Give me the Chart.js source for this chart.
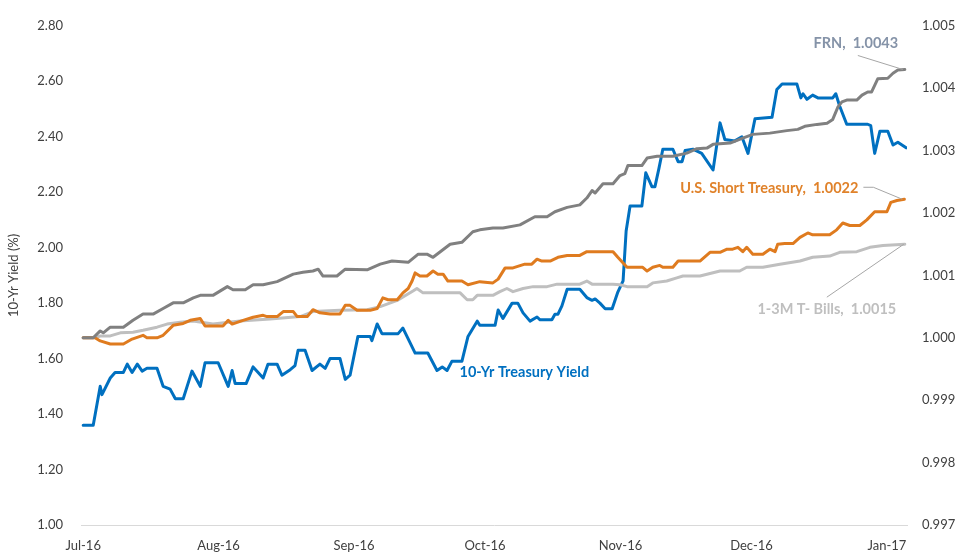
<!DOCTYPE html>
<html>
<head>
<meta charset="utf-8">
<script src="https://cdn.jsdelivr.net/npm/chart.js@4.4.1/dist/chart.umd.min.js"></script>
<style>
html,body{margin:0;padding:0;background:#fff;}
#wrap{width:959px;height:556px;position:relative;}
</style>
</head>
<body>
<div id="wrap"><canvas id="c" width="959" height="556"></canvas></div>
<script>
// ---- Data (x = days since 1-Jul-2016) ----
const monthLabels = ['Jul-16','Aug-16','Sep-16','Oct-16','Nov-16','Dec-16','Jan-17'];
const monthDays   = [0, 31, 62, 92, 123, 153, 184];

const seriesNames = ['FRN', 'U.S. Short Treasury', '1-3M T- Bills', '10-Yr Treasury Yield'];

// 10-Yr Treasury Yield (%), left axis
const yieldDays = [
  0,2.3,3.9,4.3,6.2,7.3,9.2,10.1,11.2,12.4,
  13.5,14.6,16.9,18.3,19.9,21.1,22.9,24.9,26.8,27.9,
  30.9,33.2,34.1,34.8,37.3,38.9,41.2,42.3,44.4,45.5,
  47.4,48.5,49.2,50.8,52.4,54.2,55.4,56.5,58.8,60.0,
  61.1,62.9,65.7,66.1,67.3,68.4,69.6,72.1,73.2,76.0,
  78.9,81.0,82.2,83.3,84.4,86.7,88.1,90.2,90.8,94.3,
  95.0,96.1,98.2,99.5,100.7,102.3,103.9,104.6,107.3,108.0,
  108.7,109.6,110.8,113.7,115.3,116.5,117.2,118.3,119.5,121.1,
  122.4,123.3,123.6,124.3,125.2,127.9,128.8,130.2,130.9,131.8,
  132.7,135.0,136.2,137.1,137.8,139.6,141.6,144.2,145.8,146.9,
  149.2,150.8,152.2,153.8,157.7,158.8,160.0,163.4,164.3,164.8,
  165.7,167.0,168.2,171.6,172.3,173.2,174.8,179.6,180.3,181.2,
  182.4,184.2,185.4,186.5,188.4
];
const yieldVals = [
  1.36,1.36,1.50,1.47,1.53,1.55,1.55,1.58,1.55,1.58,
  1.555,1.565,1.565,1.50,1.49,1.455,1.455,1.555,1.50,1.585,
  1.585,1.50,1.557,1.51,1.51,1.57,1.53,1.58,1.58,1.54,
  1.56,1.575,1.63,1.63,1.557,1.58,1.565,1.60,1.60,1.525,
  1.54,1.68,1.68,1.665,1.725,1.69,1.69,1.69,1.71,1.62,
  1.62,1.557,1.57,1.557,1.59,1.59,1.68,1.735,1.72,1.72,
  1.775,1.745,1.80,1.80,1.765,1.735,1.75,1.74,1.74,1.76,
  1.76,1.79,1.85,1.85,1.82,1.81,1.815,1.80,1.78,1.78,
  1.84,1.87,1.88,2.06,2.15,2.15,2.27,2.22,2.22,2.285,
  2.355,2.355,2.31,2.31,2.35,2.355,2.34,2.28,2.45,2.39,
  2.385,2.40,2.34,2.465,2.47,2.57,2.59,2.59,2.54,2.555,
  2.535,2.55,2.54,2.54,2.555,2.51,2.445,2.445,2.44,2.34,
  2.42,2.42,2.37,2.38,2.36
];

// FRN, right axis
const frnDays = [
  0,2.3,3.9,4.6,6.2,9.2,11.4,13.7,16.0,18.3,
  20.6,22.9,25.2,26.8,29.7,33.0,34.3,37.1,38.9,41.2,
  44.4,48.1,50.3,52.6,53.8,54.9,58.1,60.0,65.0,68.0,
  70.7,74.4,76.7,78.7,80.1,84.0,86.7,89.2,90.8,93.8,
  96.1,100.0,103.4,106.2,108.0,110.8,113.7,115.3,116.5,117.2,
  119.0,121.3,122.9,124.0,124.7,127.9,129.1,131.4,135.0,138.2,
  140.5,142.8,144.2,148.1,151.0,153.3,157.2,161.1,163.6,165.2,
  168.0,170.3,171.6,172.8,173.7,174.8,177.1,178.3,179.6,180.5,
  181.9,184.2,185.4,186.5,188.1
];
const frnVals = [
  1.0000,1.0000,1.00011,1.00008,1.00017,1.00017,1.00028,1.00038,1.00038,1.00047,
  1.00056,1.00056,1.00064,1.00068,1.00068,1.00082,1.00077,1.00077,1.00085,1.00085,
  1.00090,1.00102,1.00105,1.00107,1.00110,1.00099,1.00099,1.00110,1.00109,1.00118,
  1.00123,1.00121,1.00134,1.00134,1.00129,1.00150,1.00153,1.00170,1.00173,1.00176,
  1.00176,1.00181,1.00194,1.00194,1.00202,1.00209,1.00213,1.00224,1.00236,1.00232,
  1.00247,1.00247,1.00260,1.00263,1.00276,1.00276,1.00288,1.00291,1.00291,1.00296,
  1.00303,1.00304,1.00310,1.00312,1.00320,1.00326,1.00328,1.00332,1.00334,1.00339,
  1.00342,1.00344,1.00350,1.00370,1.00378,1.00381,1.00381,1.00389,1.00394,1.00394,
  1.00415,1.00416,1.00424,1.00429,1.00430
];

// U.S. Short Treasury, right axis
const shortDays = [
  0,2.7,3.9,6.2,9.2,11.2,13.7,14.6,16.9,18.3,
  20.6,22.9,24.5,26.8,27.9,32.0,33.2,34.1,36.6,38.9,
  41.2,42.1,44.4,45.8,48.1,49.0,51.3,52.6,54.2,56.5,
  58.8,60.0,61.1,62.7,65.7,67.3,68.6,69.8,71.9,73.2,
  74.4,75.3,76.0,77.1,78.7,80.1,81.2,82.4,83.5,86.7,
  88.1,90.8,93.8,95.0,96.6,98.4,101.1,102.7,103.9,105.0,
  106.9,108.7,110.8,113.7,115.3,121.3,122.4,124.5,128.1,129.1,
  130.4,132.0,132.7,135.0,136.2,141.2,143.5,145.8,147.4,148.7,
  149.9,151.0,151.9,153.3,155.6,157.2,158.4,159.0,160.6,162.5,
  164.1,165.9,167.0,170.9,172.5,173.9,175.5,177.8,179.4,181.2,
  184.0,184.9,186.3,188.0
];
const shortVals = [
  1.0000,1.0000,0.99995,0.99990,0.99990,0.99998,1.00004,1.0000,1.0000,1.00004,
  1.00020,1.00023,1.00028,1.00031,1.00019,1.00019,1.00028,1.00022,1.00028,1.00033,
  1.00036,1.00034,1.00034,1.00042,1.00042,1.00034,1.00034,1.00045,1.00040,1.00038,
  1.00038,1.00052,1.00052,1.00044,1.00044,1.00047,1.00064,1.00061,1.00061,1.00072,
  1.00079,1.00091,1.00104,1.00099,1.00099,1.00107,1.00102,1.00102,1.00091,1.00091,
  1.00085,1.00090,1.00088,1.00094,1.00112,1.00112,1.00118,1.00118,1.00126,1.00123,
  1.00123,1.00129,1.00132,1.00132,1.00138,1.00138,1.00129,1.00113,1.00113,1.00107,
  1.00113,1.00116,1.00113,1.00113,1.00123,1.00123,1.00137,1.00137,1.00142,1.00142,
  1.00145,1.00138,1.00145,1.00134,1.00134,1.00142,1.00138,1.00150,1.00151,1.00151,
  1.00161,1.00168,1.00165,1.00165,1.00173,1.00184,1.00180,1.00180,1.00189,1.00202,
  1.00202,1.00217,1.00220,1.00222
];

// 1-3M T-Bills, right axis
const billDays = [
  0,2.3,3.9,6.2,8.5,11.4,13.7,16.9,19.2,22.2,
  25.2,29.7,35.9,42.8,49.7,52.6,58.8,65.0,68.0,71.9,
  75.5,76.4,77.8,86.3,87.9,89.2,90.2,93.8,95.4,97.0,
  98.4,100.7,103.0,106.2,108.5,113.7,115.3,116.5,121.3,122.9,
  124.5,129.1,130.4,133.6,135.9,137.3,141.2,145.8,150.3,151.9,
  155.6,159.5,164.1,167.0,170.9,173.2,177.1,180.1,183.1,188.1
];
const billVals = [
  1.0000,1.0000,1.00003,1.00003,1.00008,1.00009,1.00012,1.00017,1.00022,1.00025,
  1.00027,1.00022,1.00027,1.00030,1.00034,1.00042,1.00044,1.00045,1.00050,1.00060,
  1.00075,1.00079,1.00072,1.00072,1.00061,1.00061,1.00068,1.00068,1.00074,1.00079,
  1.00074,1.00079,1.00082,1.00082,1.00086,1.00086,1.00091,1.00086,1.00086,1.00085,
  1.00082,1.00082,1.00088,1.00091,1.00096,1.00099,1.00099,1.00107,1.00107,1.00113,
  1.00113,1.00118,1.00123,1.00129,1.00131,1.00137,1.00138,1.00145,1.00148,1.00150
];

const toXY = (xs, ys) => xs.map((x, i) => ({x: x, y: ys[i]}));

const FONT = 'Lato, "Open Sans", "Liberation Sans", sans-serif';
const TXT = '#404040';

const labelPlugin = {
  id: 'seriesLabels',
  afterDatasetsDraw(chart) {
    const ctx = chart.ctx;
    const last = (i) => { const d = chart.getDatasetMeta(i).data; return d[d.length - 1]; };
    ctx.save();
    ctx.font = 'bold 14.5px ' + FONT;
    ctx.textBaseline = 'middle';
    ctx.lineWidth = 1;
    ctx.strokeStyle = '#a6a6a6';

    // FRN
    const pF = last(0);
    ctx.beginPath(); ctx.moveTo(pF.x - 47, pF.y - 14); ctx.lineTo(pF.x - 2, pF.y); ctx.stroke();
    ctx.fillStyle = '#8593a8'; ctx.textAlign = 'center';
    ctx.fillText(seriesNames[0] + ',  ' + frnVals[frnVals.length - 1].toFixed(4), pF.x - 49, pF.y - 26);

    // Short Treasury
    const pS = last(1);
    ctx.beginPath(); ctx.moveTo(pS.x - 41, pS.y - 12); ctx.lineTo(pS.x - 31, pS.y - 12); ctx.lineTo(pS.x - 2, pS.y); ctx.stroke();
    ctx.fillStyle = '#e0822a'; ctx.textAlign = 'right';
    ctx.fillText(seriesNames[1] + ',  ' + shortVals[shortVals.length - 1].toFixed(4), pS.x - 46, pS.y - 11);

    // T-Bills
    const pB = last(2);
    ctx.beginPath(); ctx.moveTo(pB.x - 78, pB.y + 53); ctx.lineTo(pB.x - 1, pB.y); ctx.stroke();
    ctx.fillStyle = '#bfbfbf'; ctx.textAlign = 'center';
    ctx.fillText(seriesNames[2] + ',  ' + billVals[billVals.length - 1].toFixed(4), pB.x - 78, pB.y + 65);

    // 10-Yr label
    const xs = chart.scales.x, yl = chart.scales.y;
    ctx.fillStyle = '#0070c0'; ctx.textAlign = 'center';
    ctx.fillText(seriesNames[3], xs.getPixelForValue(101), yl.getPixelForValue(1.55));
    ctx.restore();
  }
};

new Chart(document.getElementById('c'), {
  type: 'line',
  data: {
    datasets: [
      { label: seriesNames[0], data: toXY(frnDays, frnVals), yAxisID: 'y1', borderColor: '#808080', borderWidth: 3 },
      { label: seriesNames[1], data: toXY(shortDays, shortVals), yAxisID: 'y1', borderColor: '#df7b1f', borderWidth: 3 },
      { label: seriesNames[2], data: toXY(billDays, billVals), yAxisID: 'y1', borderColor: '#bfbfbf', borderWidth: 3 },
      { label: seriesNames[3], data: toXY(yieldDays, yieldVals), yAxisID: 'y', borderColor: '#0070c0', borderWidth: 3 }
    ]
  },
  options: {
    responsive: false,
    animation: false,
    events: [],
    layout: { padding: { top: 17, left: 0, right: 0, bottom: 0 } },
    elements: {
      point: { radius: 0 },
      line: { tension: 0, borderJoinStyle: 'round', borderCapStyle: 'round', fill: false }
    },
    plugins: { legend: { display: false }, tooltip: { enabled: false } },
    scales: {
      x: {
        type: 'linear', min: -0.5, max: 188.6,
        grid: { display: false, drawTicks: false },
        border: { display: true, color: '#d9d9d9', width: 1 },
        afterBuildTicks: (s) => { s.ticks = monthDays.map(v => ({ value: v })); },
        ticks: {
          autoSkip: false, maxRotation: 0, padding: 13, color: TXT,
          font: { family: FONT, size: 13 },
          callback: (v) => { const i = monthDays.indexOf(v); return i >= 0 ? monthLabels[i] : ''; }
        },
        afterFit: (s) => { s.height = 31; }
      },
      y: {
        position: 'left', min: 1.0, max: 2.8,
        grid: { display: false, drawTicks: false },
        border: { display: false },
        ticks: { stepSize: 0.2, padding: 18, color: TXT, font: { family: FONT, size: 13 },
                 callback: (v) => Number(v).toFixed(2) },
        title: { display: true, text: '10-Yr Yield (%)', color: TXT, font: { family: FONT, size: 13 }, padding: { top: 6, bottom: 0 } },
        afterFit: (s) => { s.width = 81; }
      },
      y1: {
        position: 'right', min: 0.997, max: 1.005,
        grid: { display: false, drawTicks: false },
        border: { display: false },
        ticks: { stepSize: 0.001, padding: 15, color: TXT, font: { family: FONT, size: 13 },
                 callback: (v) => Number(v).toFixed(3) },
        afterFit: (s) => { s.width = 52; }
      }
    }
  },
  plugins: [labelPlugin]
});
</script>
</body>
</html>
